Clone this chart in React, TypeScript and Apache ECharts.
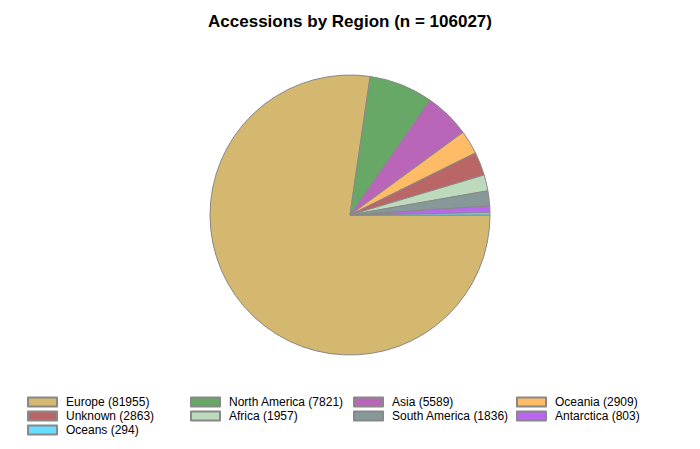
import React, { useEffect, useRef } from "react";
import * as echarts from "echarts";

const regions = ["Europe", "North America", "Asia", "Oceania", "Unknown", "Africa", "South America", "Antarctica", "Oceans"];
const counts = [81955, 7821, 5589, 2909, 2863, 1957, 1836, 803, 294];
const colors = ["#D4B86F", "#67A867", "#B966B9", "#FFBB66", "#BB6666", "#BDDABD", "#869898", "#BB66EE", "#66DDFF"];
const legendColumns = [
  ["Europe", "Unknown", "Oceans"],
  ["North America", "Africa"],
  ["Asia", "South America"],
  ["Oceania", "Antarctica"],
];
const legendLeft = [27, 190, 353, 516];

export default function App() {
  const ref = useRef<HTMLDivElement>(null);
  useEffect(() => {
    document.body.style.margin = "0";
    const chart = echarts.init(ref.current!, null, { renderer: "svg" });
    const total = counts.reduce((a, b) => a + b, 0);
    const labelOf: Record<string, string> = {};
    regions.forEach((r, i) => (labelOf[r] = `${r} (${counts[i]})`));
    chart.setOption({
      animation: false,
      title: {
        text: `Accessions by Region (n = ${total})`,
        left: "center",
        top: 8,
        textStyle: { fontFamily: "Liberation Sans, Arial, sans-serif", fontSize: 17, fontWeight: "bold", color: "#000" },
      },
      legend: legendColumns.map((col, i) => ({
        data: col,
        orient: "vertical",
        left: legendLeft[i],
        top: 395,
        itemWidth: 29,
        itemHeight: 9,
        itemGap: 0,
        icon: "rect",
        selectedMode: false,
        formatter: (name: string) => labelOf[name],
        textStyle: { fontFamily: "Liberation Sans, Arial, sans-serif", fontSize: 12, color: "#000", lineHeight: 14, padding: [0, 0, 0, 4] },
        padding: 0,
      })),
      series: [
        {
          type: "pie",
          center: [350, 215],
          radius: [0, 140],
          startAngle: 0,
          clockwise: true,
          label: { show: false },
          labelLine: { show: false },
          emphasis: { disabled: true },
          itemStyle: { borderColor: "#888888", borderWidth: 1 },
          data: regions.map((r, i) => ({ name: r, value: counts[i], itemStyle: { color: colors[i] } })),
        },
      ],
    });
    return () => chart.dispose();
  }, []);
  return <div ref={ref} style={{ width: 700, height: 449 }} />;
}
